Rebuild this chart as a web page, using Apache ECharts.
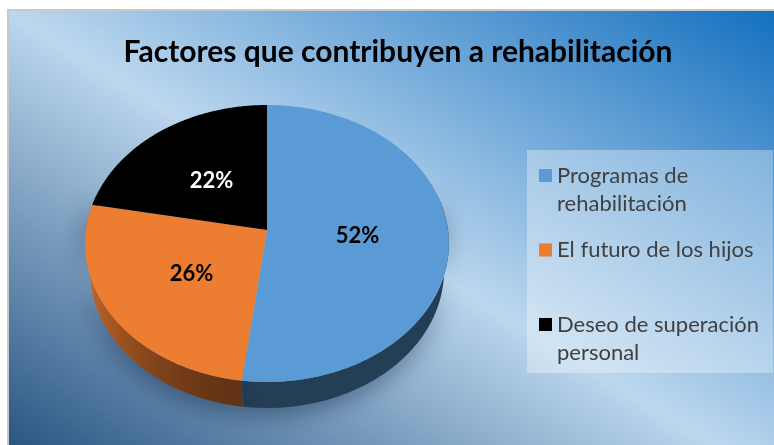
<!DOCTYPE html>
<html>
<head>
<meta charset="utf-8">
<script src="https://cdn.jsdelivr.net/npm/echarts@6/dist/echarts.min.js"></script>
<style>
html,body{margin:0;padding:0;background:#fff;}
#chart{width:774px;height:445px;}
</style>
</head>
<body>
<div id="chart"></div>
<script>
// ---- data ----
const categories = ['Programas de rehabilitación', 'El futuro de los hijos', 'Deseo de superación personal'];
const values = [52, 26, 22];
const legendLabels = ['Programas de\nrehabilitación', 'El futuro de los hijos\n ', 'Deseo de superación\npersonal'];
const sliceColors = ['#5b9bd5', '#ed7d31', '#000000'];
const labelColors = ['#000000', '#000000', '#ffffff'];
const titleText = 'Factores que contribuyen a rehabilitación';

// ---- 3D projection parameters (layout) ----
const PJ = {cx: 267, cy: 230, S: 181, R: 0.1495, sinPhi: 0.758, cosPhi: 0.652, h: 0.0358};
function proj(theta, r, down) {
  const R = PJ.R;
  const X = r * R * Math.sin(theta);
  let Y = r * R * Math.cos(theta) * PJ.sinPhi;
  let Z = 1 + r * R * Math.cos(theta) * PJ.cosPhi;
  if (down) { Y -= PJ.h * PJ.cosPhi; Z += PJ.h * PJ.sinPhi; }
  const f = PJ.S / R;
  return [PJ.cx + f * X / Z, PJ.cy - f * Y / Z];
}
function hexToRgb(h) {
  const n = parseInt(h.slice(1), 16);
  return [(n >> 16) & 255, (n >> 8) & 255, n & 255];
}
function shade(hex, theta) {
  const s = Math.max(0, -Math.sin(theta));
  const fac = 0.4 + 0.45 * s * s;
  const c = hexToRgb(hex).map(v => Math.round(v * fac));
  return 'rgb(' + c.join(',') + ')';
}

const total = values.reduce((a, b) => a + b, 0);
function makeRender(i) {
  return function (params, api) {
    const TAU = Math.PI * 2;
    const a0 = api.value(0) * TAU, a1 = api.value(1) * TAU;
    const children = [];
    // wall (front part only)
    const w0 = Math.max(a0, 75 * Math.PI / 180), w1 = Math.min(a1, 285 * Math.PI / 180);
    if (w1 > w0) {
      const n = Math.max(2, Math.ceil((w1 - w0) / 0.01));
      const topPts = [], botPts = [], stops = [];
      for (let j = 0; j <= n; j++) {
        const t = w0 + (w1 - w0) * j / n;
        topPts.push(proj(t, 1, 0));
        botPts.push(proj(t, 1, 1));
      }
      const xs = topPts.map(p => p[0]).concat(botPts.map(p => p[0]));
      const xmin = Math.min.apply(null, xs), xmax = Math.max.apply(null, xs);
      for (let j = 0; j <= n; j += Math.max(1, Math.floor(n / 20))) {
        const t = w0 + (w1 - w0) * j / n;
        const x = topPts[j][0];
        stops.push({offset: (x - xmin) / Math.max(1, xmax - xmin), color: shade(sliceColors[i], t)});
      }
      stops.sort((a, b) => a.offset - b.offset);
      const pts = topPts.concat(botPts.reverse());
      children.push({
        type: 'polygon', z2: 1,
        shape: {points: pts},
        style: {
          fill: {type: 'linear', x: xmin, y: 0, x2: xmax, y2: 0, global: true, colorStops: stops},
          shadowBlur: 24, shadowColor: 'rgba(10,30,60,0.5)', shadowOffsetX: -3, shadowOffsetY: 6
        }
      });
    }
    // top face
    const m = Math.max(2, Math.ceil((a1 - a0) / 0.01));
    const tp = [proj(0, 0, 0)];
    for (let j = 0; j <= m; j++) tp.push(proj(a0 + (a1 - a0) * j / m, 1, 0));
    children.push({type: 'polygon', z2: 10, shape: {points: tp}, style: {fill: sliceColors[i]}});
    // label
    const mid = (a0 + a1) / 2;
    const lp = proj(mid, 0.5, 0);
    children.push({
      type: 'text', z2: 20, x: lp[0], y: lp[1] + 2,
      style: {text: Math.round(api.value(2) / total * 100) + '%', fill: labelColors[i],
              font: 'bold 22px Lato', align: 'center', verticalAlign: 'middle'}
    });
    return {type: 'group', children: children};
  };
}

let acc = 0;
const series = categories.map((name, i) => {
  const s = acc / total; acc += values[i]; const e = acc / total;
  return {
    type: 'custom', name: name, coordinateSystem: 'none', silent: true, animation: false,
    itemStyle: {color: sliceColors[i]},
    renderItem: makeRender(i),
    data: [[s, e, values[i]]]
  };
});

const chart = echarts.init(document.getElementById('chart'));
chart.setOption({
  backgroundColor: '#ffffff',
  animation: false,
  graphic: [{
    type: 'rect', z: -10, silent: true,
    shape: {x: 8, y: 10, width: 790, height: 460},
    style: {
      fill: {type: 'linear', x: -163, y: 341, x2: 239, y2: -317, global: true, colorStops: [
        {offset: 0, color: '#2a5683'},
        {offset: 0.48, color: '#bcd7ee'},
        {offset: 1, color: '#1470bf'}
      ]},
      stroke: '#c8c8c8', lineWidth: 2
    }
  }],
  title: {
    text: titleText, left: 393, top: 32, textAlign: 'center',
    textStyle: {fontFamily: 'Lato', fontWeight: 'bold', fontSize: 30, color: '#000'}
  },
  legend: {
    orient: 'vertical', left: 527, top: 150,
    padding: [11, 12, 5, 12], itemGap: 16.5,
    itemWidth: 13, itemHeight: 58,
    icon: 'path://M0,8h13v13h-13z M0,0h0.01v0.01h-0.01z M12.99,57.99h0.01v0.01h-0.01z',
    backgroundColor: 'rgba(255,255,255,0.33)',
    selectedMode: false,
    formatter: function (name) { return legendLabels[categories.indexOf(name)]; },
    textStyle: {fontFamily: 'Lato', fontSize: 22, color: '#404040', lineHeight: 28.5, width: 204},
    data: categories
  },
  series: series
});
</script>
</body>
</html>
